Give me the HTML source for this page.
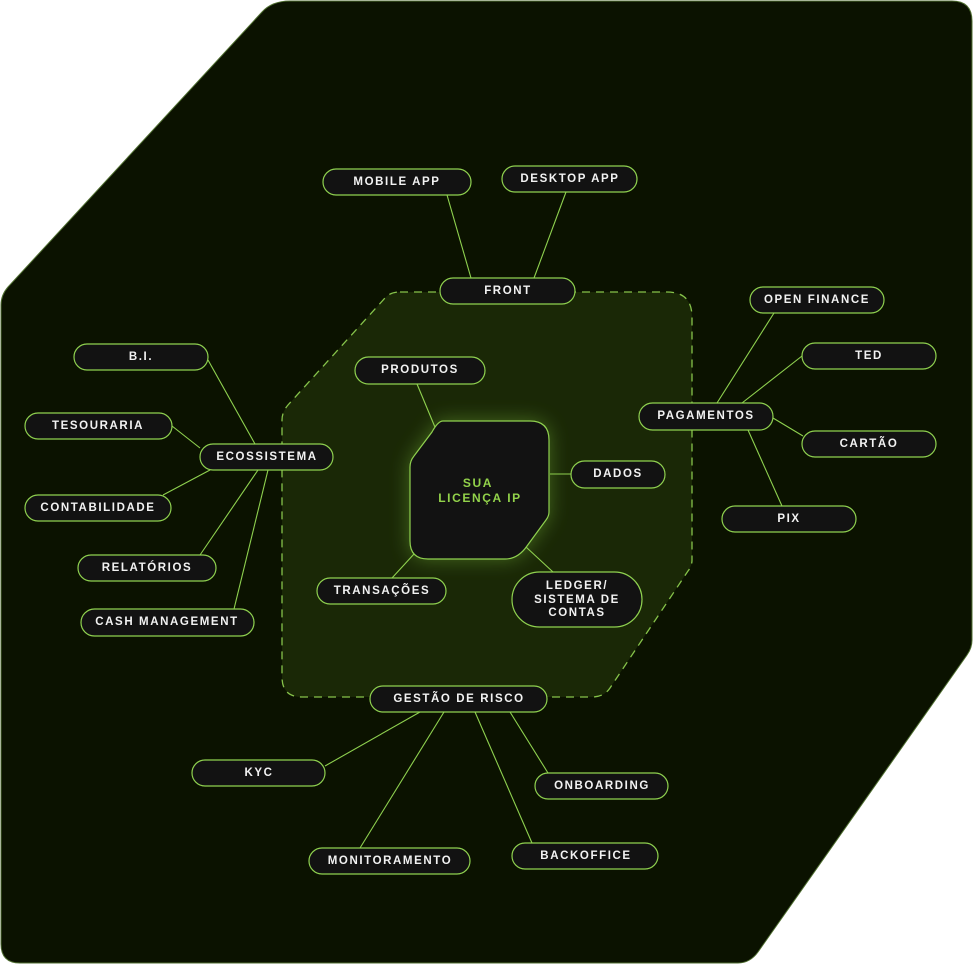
<!DOCTYPE html>
<html><head><meta charset="utf-8"><style>
html,body{margin:0;padding:0;background:#fff;}
svg{display:block}
text{font-family:"Liberation Sans",sans-serif;font-weight:bold;font-size:11.5px;letter-spacing:1.6px;fill:#f2f2f2;text-anchor:middle;dominant-baseline:central}
</style></head><body>
<svg width="973" height="964" viewBox="0 0 973 964" xmlns="http://www.w3.org/2000/svg">
<defs>
<filter id="g" x="-50%" y="-50%" width="200%" height="200%"><feGaussianBlur stdDeviation="10"/></filter>
</defs>
<path d="M290,1 L952,1 Q972,1 972,21 L972,640 Q972,648 967,655 L758,952 Q750,963 738,963 L20,963 Q1,963 1,944 L1,305 Q1,295 8,287 L262,12 Q272,1 290,1 Z" fill="#0b1200" stroke="#4f6e30" stroke-width="1"/>
<path d="M400,292 L667,292 Q692,292 692,317 L692,560 Q692,566 688,571 L610,688 Q604,697 592,697 L302,697 Q282,697 282,677 L282,420 Q282,412 288,405 L385,298 Q390,292 400,292 Z" fill="#1a2806" stroke="#86c34a" stroke-width="1.3" stroke-dasharray="8,6"/>
<g stroke="#8fd14f" stroke-width="1.1">
<line x1="447" y1="195" x2="471" y2="278"/>
<line x1="566" y1="192" x2="534" y2="278"/>
<line x1="417" y1="384" x2="437" y2="432"/>
<line x1="550" y1="474" x2="571" y2="474"/>
<line x1="392" y1="578" x2="414" y2="554"/>
<line x1="526" y1="547" x2="553" y2="572"/>
<line x1="774" y1="313" x2="717" y2="403"/>
<line x1="802" y1="356" x2="742" y2="403"/>
<line x1="773" y1="418" x2="803" y2="436"/>
<line x1="748" y1="430" x2="782" y2="506"/>
<line x1="208" y1="360" x2="255" y2="444"/>
<line x1="172" y1="426" x2="200" y2="448"/>
<line x1="163" y1="495" x2="210" y2="470"/>
<line x1="200" y1="555" x2="258" y2="470"/>
<line x1="234" y1="609" x2="268" y2="470"/>
<line x1="325" y1="766" x2="420" y2="712"/>
<line x1="360" y1="848" x2="444" y2="712"/>
<line x1="532" y1="843" x2="475" y2="712"/>
<line x1="548" y1="773" x2="510" y2="712"/>
</g>
<path d="M443,421 L530,421 Q549,421 549,440 L549,512 Q549,516 546,520 L527,546 Q518,559 505,559 L428,559 Q410,559 410,541 L410,467 Q410,461 414,456 L432,432 Q438,421 443,421 Z" fill="#7fc040" opacity="0.45" filter="url(#g)"/>
<path d="M443,421 L530,421 Q549,421 549,440 L549,512 Q549,516 546,520 L527,546 Q518,559 505,559 L428,559 Q410,559 410,541 L410,467 Q410,461 414,456 L432,432 Q438,421 443,421 Z" fill="#121212" stroke="#8fd14f" stroke-width="1.2"/>
<text x="478" y="483" style="fill:#92d24a;font-size:12px">SUA</text>
<text x="480" y="498" style="fill:#92d24a;font-size:12px">LICENÇA IP</text>
<g fill="#121212" stroke="#8fd14f" stroke-width="1.2">
<rect x="323" y="169" width="148" height="26" rx="13"/>
<rect x="502" y="166" width="135" height="26" rx="13"/>
<rect x="440" y="278" width="135" height="26" rx="13"/>
<rect x="355" y="357" width="130" height="27" rx="13.5"/>
<rect x="74" y="344" width="134" height="26" rx="13"/>
<rect x="25" y="413" width="147" height="26" rx="13"/>
<rect x="200" y="444" width="133" height="26" rx="13"/>
<rect x="25" y="495" width="146" height="26" rx="13"/>
<rect x="78" y="555" width="138" height="26" rx="13"/>
<rect x="81" y="609" width="173" height="27" rx="13.5"/>
<rect x="750" y="287" width="134" height="26" rx="13"/>
<rect x="802" y="343" width="134" height="26" rx="13"/>
<rect x="639" y="403" width="134" height="27" rx="13.5"/>
<rect x="802" y="431" width="134" height="26" rx="13"/>
<rect x="722" y="506" width="134" height="26" rx="13"/>
<rect x="571" y="461" width="94" height="27" rx="13.5"/>
<rect x="317" y="578" width="129" height="26" rx="13"/>
<rect x="512" y="572" width="130" height="55" rx="27.5"/>
<rect x="370" y="686" width="177" height="26" rx="13"/>
<rect x="192" y="760" width="133" height="26" rx="13"/>
<rect x="535" y="773" width="133" height="26" rx="13"/>
<rect x="309" y="848" width="161" height="26" rx="13"/>
<rect x="512" y="843" width="146" height="26" rx="13"/>
</g>
<text x="397" y="182">MOBILE APP</text>
<text x="570" y="179">DESKTOP APP</text>
<text x="508" y="291">FRONT</text>
<text x="420" y="370">PRODUTOS</text>
<text x="141" y="357">B.I.</text>
<text x="98" y="426">TESOURARIA</text>
<text x="267" y="457">ECOSSISTEMA</text>
<text x="98" y="508">CONTABILIDADE</text>
<text x="147" y="568">RELATÓRIOS</text>
<text x="167" y="622">CASH MANAGEMENT</text>
<text x="817" y="300">OPEN FINANCE</text>
<text x="869" y="356">TED</text>
<text x="706" y="416">PAGAMENTOS</text>
<text x="869" y="444">CARTÃO</text>
<text x="789" y="519">PIX</text>
<text x="618" y="474">DADOS</text>
<text x="382" y="591">TRANSAÇÕES</text>
<text x="577" y="586">LEDGER/</text>
<text x="577" y="600">SISTEMA DE</text>
<text x="577" y="613">CONTAS</text>
<text x="459" y="699">GESTÃO DE RISCO</text>
<text x="259" y="773">KYC</text>
<text x="602" y="786">ONBOARDING</text>
<text x="390" y="861">MONITORAMENTO</text>
<text x="586" y="856">BACKOFFICE</text>
</svg>
</body></html>
